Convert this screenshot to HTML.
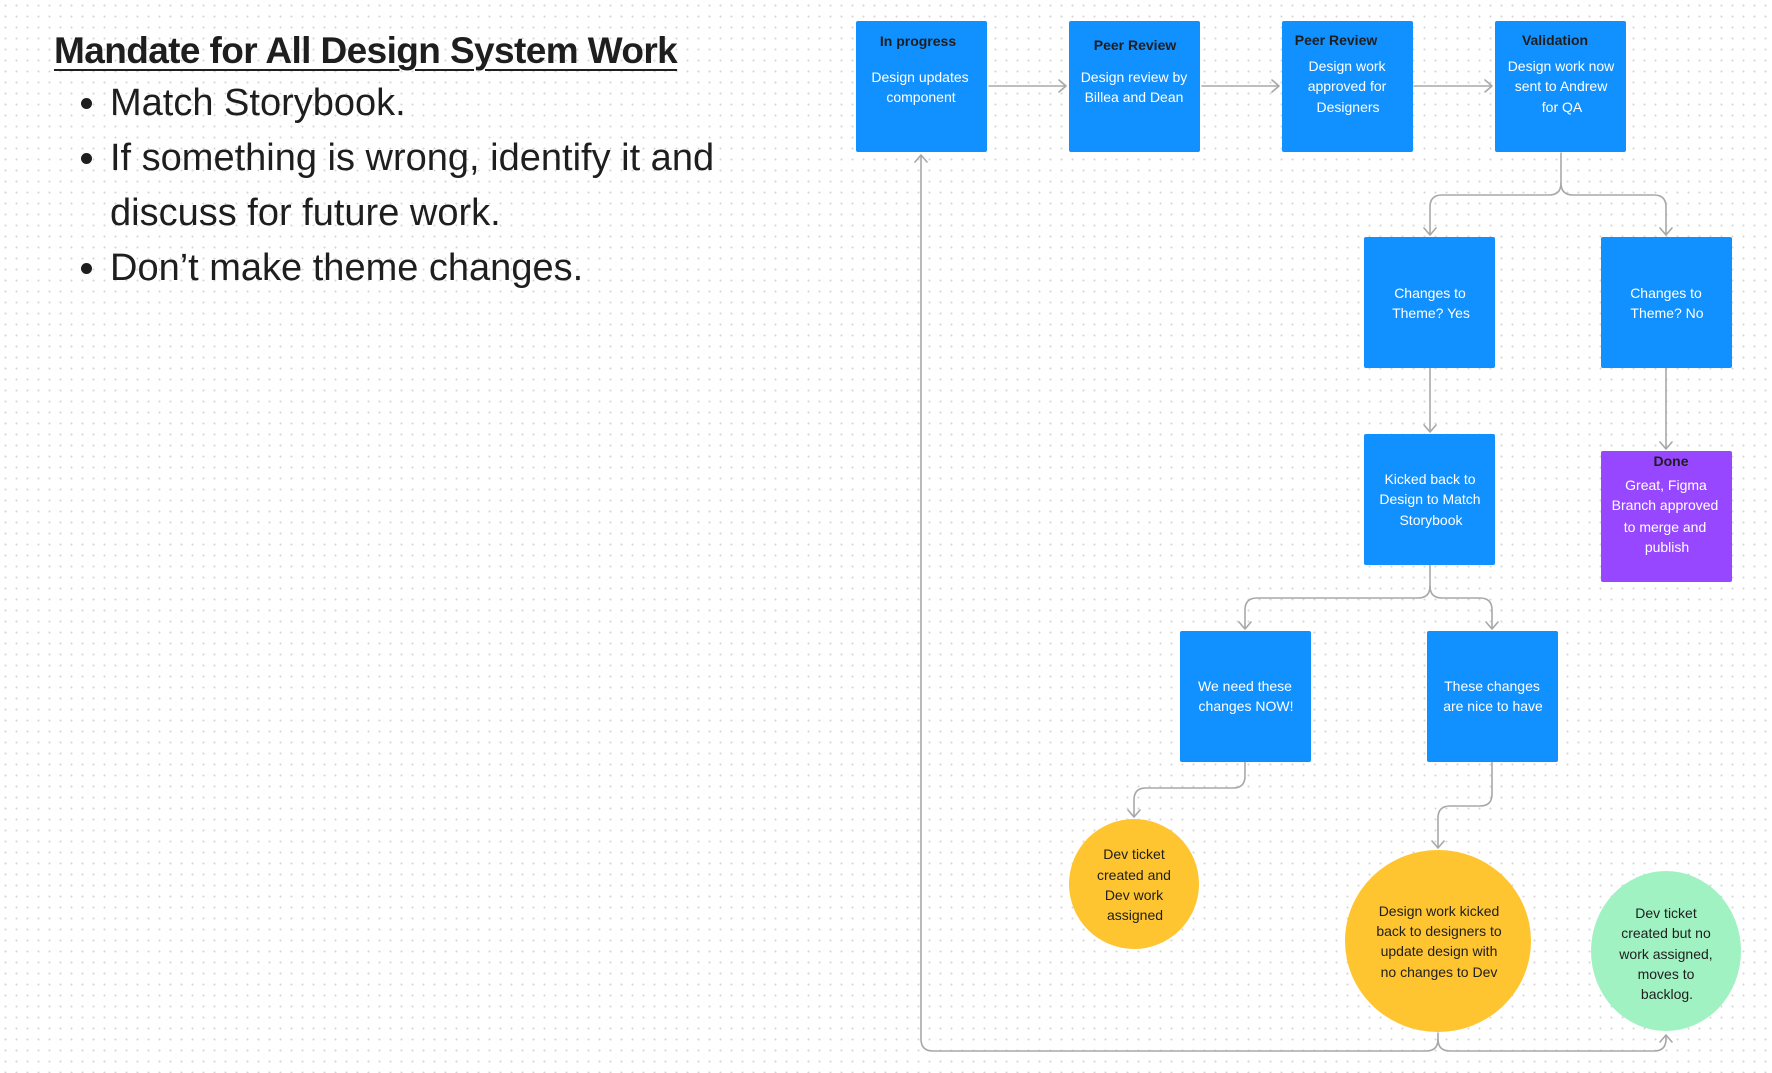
<!DOCTYPE html>
<html><head><meta charset="utf-8"><style>
html,body{margin:0;padding:0;}
body{width:1772px;height:1073px;overflow:hidden;background:#fff;background-image:radial-gradient(circle,#d6d6d6 0.8px,transparent 1.2px);background-size:11px 11px;font-family:"Liberation Sans",sans-serif;position:relative;}
h1{position:absolute;left:54px;top:30px;margin:0;font-size:37px;font-weight:bold;color:#1e1e1e;text-decoration:underline;text-decoration-thickness:2px;text-underline-offset:6px;letter-spacing:-0.6px;}
ul{position:absolute;left:62px;top:76px;margin:0;padding-left:48px;font-size:38px;line-height:55px;color:#1e1e1e;width:700px;}
svg{position:absolute;left:0;top:0;}
</style></head><body>
<h1>Mandate for All Design System Work</h1>
<ul>
<li>Match Storybook.</li>
<li>If something is wrong, identify it and discuss for future work.</li>
<li>Don’t make theme changes.</li>
</ul>
<svg width="1772" height="1073" viewBox="0 0 1772 1073" font-family="Liberation Sans, sans-serif" font-size="14">
<g fill="none" stroke="#a8a8a8" stroke-width="1.6" stroke-linecap="round" stroke-linejoin="round">
<path d="M989 86H1066M1059 80l7 6-7 6"/>
<path d="M1202 86H1279M1272 80l7 6-7 6"/>
<path d="M1414 86H1492M1485 80l7 6-7 6"/>
<path d="M1561 153V183q0 12-12 12H1442q-12 0-12 12V235M1424 228l6 7 6-7"/>
<path d="M1561 183q0 12 12 12H1654q12 0 12 12V235M1660 228l6 7 6-7"/>
<path d="M1430 368V432M1424 425l6 7 6-7"/>
<path d="M1666 368V449M1660 442l6 7 6-7"/>
<path d="M1430 565V586q0 12-12 12H1257q-12 0-12 12V629M1239 622l6 7 6-7"/>
<path d="M1430 586q0 12 12 12H1480q12 0 12 12V629M1486 622l6 7 6-7"/>
<path d="M1245 762V776q0 12-12 12H1146q-12 0-12 12V817M1128 810l6 7 6-7"/>
<path d="M1492 762V794q0 12-12 12H1450q-12 0-12 12V848M1432 841l6 7 6-7"/>
<path d="M1438 1033V1039q0 12-12 12H933q-12 0-12-12V155M915 162l6-7 6 7"/>
<path d="M1438 1039q0 12 12 12H1654q12 0 12-12V1035M1660 1042l6-7 6 7"/>
</g>
<g fill="#1190ff">
<rect x="856" y="21" width="131" height="131" rx="2"/>
<rect x="1069" y="21" width="131" height="131" rx="2"/>
<rect x="1282" y="21" width="131" height="131" rx="2"/>
<rect x="1495" y="21" width="131" height="131" rx="2"/>
<rect x="1364" y="237" width="131" height="131" rx="2"/>
<rect x="1601" y="237" width="131" height="131" rx="2"/>
<rect x="1364" y="434" width="131" height="131" rx="2"/>
<rect x="1180" y="631" width="131" height="131" rx="2"/>
<rect x="1427" y="631" width="131" height="131" rx="2"/>
</g>
<rect x="1601" y="451" width="131" height="131" rx="2" fill="#9747ff"/>
<ellipse cx="1134" cy="884" rx="65" ry="65" fill="#ffc531"/>
<ellipse cx="1438" cy="941" rx="93" ry="91" fill="#ffc531"/>
<ellipse cx="1666" cy="951" rx="75" ry="80" fill="#a0f2c2"/>
<g text-anchor="middle" fill="#1e1e1e" font-weight="bold" font-size="14">
<text x="918" y="46">In progress</text>
<text x="1135" y="50">Peer Review</text>
<text x="1336" y="45">Peer Review</text>
<text x="1555" y="45">Validation</text>
<text x="1671" y="466">Done</text>
</g>
<g text-anchor="middle" fill="#fff" font-size="14">
<text x="920" y="82">Design updates</text><text x="921" y="102">component</text>
<text x="1134" y="82">Design review by</text><text x="1134" y="102">Billea and Dean</text>
<text x="1347" y="71">Design work</text><text x="1347" y="91">approved for</text><text x="1348" y="112">Designers</text>
<text x="1561" y="71">Design work now</text><text x="1561" y="91">sent to Andrew</text><text x="1562" y="112">for QA</text>
<text x="1430" y="298">Changes to</text><text x="1431" y="318">Theme? Yes</text>
<text x="1666" y="298">Changes to</text><text x="1667" y="318">Theme? No</text>
<text x="1430" y="484">Kicked back to</text><text x="1430" y="504">Design to Match</text><text x="1431" y="525">Storybook</text>
<text x="1666" y="490">Great, Figma</text><text x="1665" y="510">Branch approved</text><text x="1665" y="532">to merge and</text><text x="1667" y="552">publish</text>
<text x="1245" y="691">We need these</text><text x="1246" y="711">changes NOW!</text>
<text x="1492" y="691">These changes</text><text x="1493" y="711">are nice to have</text>
</g>
<g text-anchor="middle" fill="#1e1e1e" font-size="14">
<text x="1134" y="859">Dev ticket</text><text x="1134" y="880">created and</text><text x="1134" y="900">Dev work</text><text x="1135" y="920">assigned</text>
<text x="1439" y="916">Design work kicked</text><text x="1439" y="936">back to designers to</text><text x="1439" y="956">update design with</text><text x="1439" y="977">no changes to Dev</text>
<text x="1666" y="918">Dev ticket</text><text x="1666" y="938">created but no</text><text x="1666" y="959">work assigned,</text><text x="1666" y="979">moves to</text><text x="1667" y="999">backlog.</text>
</g>
</svg>
</body></html>
